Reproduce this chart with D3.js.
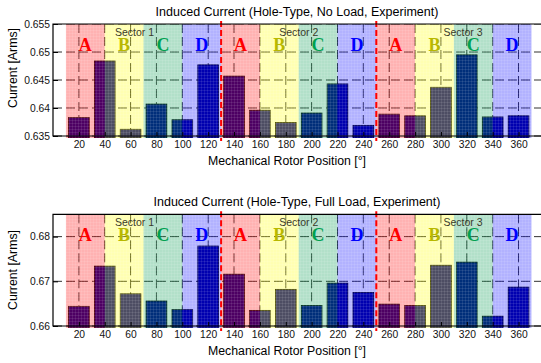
<!DOCTYPE html>
<html>
<head>
<meta charset="utf-8">
<script src="https://cdn.jsdelivr.net/npm/d3@7"></script>
<style>
    body { margin: 0; background: #fff; }
    svg { display: block; font-family: "Liberation Sans", Arial, sans-serif; }
</style>
</head>
<body>
<svg id="graph_svg"></svg>
<script>
// rotor positions (deg) and measured currents
const positions = [20, 40, 60, 80, 100, 120, 140, 160, 180, 200, 220, 240, 260, 280, 300, 320, 340, 360];
const noLoad = [0.6383, 0.6484, 0.6362, 0.6407, 0.6379, 0.6477, 0.6457, 0.6396, 0.6374,
                0.6391, 0.6443, 0.6369, 0.6389, 0.6386, 0.6437, 0.6495, 0.6384, 0.6386];
const fullLoad = [0.6644, 0.6734, 0.6672, 0.6656, 0.6637, 0.6779, 0.6716, 0.6635, 0.6682,
                  0.6646, 0.6696, 0.6675, 0.6649, 0.6646, 0.6736, 0.6743, 0.6622, 0.6687];

// phase regions A-D repeated in each sector
const phases = ["A", "B", "C", "D"];
const regionStarts = [10, 40, 70, 100, 130, 160, 190, 220, 250, 280, 310, 340];
const regionWidth = 30;
const sectorBounds = [130, 250];
const sectorNames = ["Sector 1", "Sector 2", "Sector 3"];
const sectorCenters = [63, 190, 317];

const xTicks = positions;
const yTicksNoLoad = [0.635, 0.64, 0.645, 0.65, 0.655];
const yTicksFullLoad = [0.66, 0.67, 0.68];

const phaseFill = {A: "#ff0000", B: "#ffff00", C: "#00994d", D: "#0000ff"};
const phaseText = {A: "#ff0000", B: "#b8b800", C: "#00a050", D: "#0000ff"};

const width = 541, height = 363;
const svg = d3.select("#graph_svg").attr("width", width).attr("height", height);

// fine mesh seen on the transparent patches
const mesh = svg.append("defs").append("pattern")
    .attr("id", "mesh").attr("patternUnits", "userSpaceOnUse")
    .attr("width", 3).attr("height", 3);
mesh.append("path").attr("d", "M0,0.5H3M0.5,0V3")
    .attr("stroke", "#fff").attr("stroke-opacity", 0.09).attr("stroke-width", 1);

const x = d3.scaleLinear().domain([0, 380]).range([53, 544.4]);

drawPanel({
    id: "top", top: 24, bottom: 136, yDomain: [0.635, 0.655], yTicks: yTicksNoLoad,
    values: noLoad, title: "Induced Current (Hole-Type, No Load, Experiment)", ylabelY: 68
});
drawPanel({
    id: "bot", top: 214.3, bottom: 326, yDomain: [0.66, 0.685], yTicks: yTicksFullLoad,
    values: fullLoad, title: "Induced Current (Hole-Type, Full Load, Experiment)", ylabelY: 270
});

function drawPanel(p) {
    const y = d3.scaleLinear().domain(p.yDomain).range([p.bottom, p.top]);
    const left = x.range()[0], right = x.range()[1];
    const g = svg.append("g");

    // clip to plot area (patches hang a bit below the axis)
    svg.append("clipPath").attr("id", "clip_" + p.id)
        .append("rect")
        .attr("x", left).attr("y", p.top)
        .attr("width", right - left).attr("height", p.bottom - p.top + 2);

    const plot = g.append("g").attr("clip-path", `url(#clip_${p.id})`);

    // grid
    plot.selectAll(".vgrid").data(xTicks).enter()
        .append("line")
        .attr("x1", d => x(d)).attr("x2", d => x(d))
        .attr("y1", p.top).attr("y2", p.bottom)
        .attr("stroke", "#333").attr("stroke-width", 1)
        .attr("stroke-dasharray", "9,4");
    plot.selectAll(".hgrid").data(p.yTicks).enter()
        .append("line")
        .attr("x1", left).attr("x2", right)
        .attr("y1", d => y(d)).attr("y2", d => y(d))
        .attr("stroke", "#333").attr("stroke-width", 1)
        .attr("stroke-dasharray", "9,4");

    // bars
    const barW = x(16) - x(0);
    plot.selectAll(".bar").data(p.values).enter()
        .append("rect")
        .attr("x", (d, i) => x(positions[i]) - barW / 2)
        .attr("y", d => y(d))
        .attr("width", barW)
        .attr("height", d => p.bottom + 2 - y(d))
        .attr("fill", "#00008f")
        .attr("stroke", "#000").attr("stroke-width", 0.8);

    // translucent phase patches on top
    const patchW = x(regionWidth) - x(0);
    plot.selectAll(".patch").data(regionStarts).enter()
        .append("rect")
        .attr("x", d => x(d))
        .attr("y", p.top)
        .attr("width", patchW)
        .attr("height", p.bottom - p.top + 2)
        .attr("fill", (d, i) => phaseFill[phases[i % 4]])
        .attr("fill-opacity", 0.3);
    plot.selectAll(".meshPatch").data(regionStarts).enter()
        .append("rect")
        .attr("x", d => x(d))
        .attr("y", p.top)
        .attr("width", patchW)
        .attr("height", p.bottom - p.top + 2)
        .attr("fill", "url(#mesh)");

    // phase letters
    g.selectAll(".phase").data(regionStarts).enter()
        .append("text")
        .attr("x", d => x(d + regionWidth / 2))
        .attr("y", p.top + 27)
        .attr("text-anchor", "middle")
        .style("font-family", "'Liberation Serif', 'Times New Roman', serif")
        .style("font-weight", "bold")
        .style("font-size", "18px")
        .attr("fill", (d, i) => phaseText[phases[i % 4]])
        .text((d, i) => phases[i % 4]);

    // sector labels
    g.selectAll(".sector").data(sectorNames).enter()
        .append("text")
        .attr("x", (d, i) => x(sectorCenters[i]))
        .attr("y", p.top + 12)
        .attr("text-anchor", "middle")
        .style("font-size", "10.5px")
        .attr("fill", "#3a3a2a")
        .text(d => d);

    // sector boundaries
    g.selectAll(".bound").data(sectorBounds).enter()
        .append("line")
        .attr("x1", d => x(d)).attr("x2", d => x(d))
        .attr("y1", p.top - 3).attr("y2", p.bottom + 5)
        .attr("stroke", "#ff0000").attr("stroke-width", 2)
        .attr("stroke-dasharray", "6,3");

    // axes (ticks inside, like MATLAB)
    const axisX = d3.axisBottom(x).tickValues(xTicks).tickSizeInner(-4).tickSizeOuter(0).tickPadding(5);
    const axisY = d3.axisLeft(y).tickValues(p.yTicks).tickSizeInner(-5).tickSizeOuter(0).tickPadding(3)
        .tickFormat(d => String(+d.toFixed(3)));

    const gx = g.append("g").attr("transform", `translate(0, ${p.bottom})`).call(axisX);
    const gy = g.append("g").attr("transform", `translate(${left}, 0)`).call(axisY);
    [gx, gy].forEach(a => {
        a.select(".domain").remove();
        a.selectAll("text").style("font-size", "10.3px").attr("fill", "#111");
        a.selectAll("line").attr("stroke", "#000");
    });

    // box
    g.append("path")
        .attr("d", `M${right},${p.top}H${left}V${p.bottom}H${right}`)
        .attr("fill", "none").attr("stroke", "#000").attr("stroke-width", 1.2);

    // labels
    g.append("text")
        .attr("x", 297).attr("y", p.top - 8)
        .attr("text-anchor", "middle")
        .style("font-size", "12.5px")
        .text(p.title);

    g.append("text")
        .attr("x", 287).attr("y", p.bottom + 29)
        .attr("text-anchor", "middle")
        .style("font-size", "12.3px")
        .text("Mechanical Rotor Position [°]");

    g.append("text")
        .attr("transform", `translate(17, ${p.ylabelY}) rotate(-90)`)
        .attr("text-anchor", "middle")
        .style("font-size", "12.3px")
        .text("Current [Arms]");
}
</script>
</body>
</html>
